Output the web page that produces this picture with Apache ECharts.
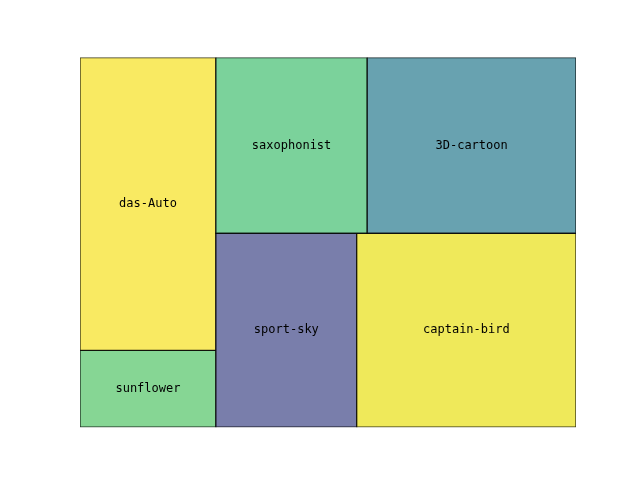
<!DOCTYPE html>
<html>
<head>
<meta charset="utf-8">
<script src="https://cdn.jsdelivr.net/npm/echarts@6/dist/echarts.min.js"></script>
<style>html,body{margin:0;padding:0;background:#fff}#c{width:640px;height:480px}</style>
</head>
<body>
<div id="c"></div>
<script>
const labels = ['sunflower', 'das-Auto', 'sport-sky', 'captain-bird', 'saxophonist', '3D-cartoon'];
const values = [5.7, 21.7, 14.9, 23.2, 14.5, 20.0];
const colors = ['#86d694', '#f9ea62', '#797eab', '#efe95a', '#7bd29b', '#68a2b0'];

// squarify algorithm (as in Python squarify), in 100x100 normalized units
function normalize(sizes, dx, dy) {
  const tot = sizes.reduce((a, b) => a + b, 0);
  return sizes.map(s => s * dx * dy / tot);
}
function layoutrow(sizes, x, y, dx, dy) {
  const w = sizes.reduce((a, b) => a + b, 0) / dy; const r = [];
  for (const s of sizes) { r.push({x: x, y: y, dx: w, dy: s / w}); y += s / w; }
  return r;
}
function layoutcol(sizes, x, y, dx, dy) {
  const h = sizes.reduce((a, b) => a + b, 0) / dx; const r = [];
  for (const s of sizes) { r.push({x: x, y: y, dx: s / h, dy: h}); x += s / h; }
  return r;
}
function layout(s, x, y, dx, dy) { return dx >= dy ? layoutrow(s, x, y, dx, dy) : layoutcol(s, x, y, dx, dy); }
function leftover(s, x, y, dx, dy) {
  const a = s.reduce((p, q) => p + q, 0);
  if (dx >= dy) { const w = a / dy; return [x + w, y, dx - w, dy]; }
  const h = a / dx; return [x, y + h, dx, dy - h];
}
function worst(s, x, y, dx, dy) {
  return Math.max(...layout(s, x, y, dx, dy).map(r => Math.max(r.dx / r.dy, r.dy / r.dx)));
}
function squarify(sizes, x, y, dx, dy) {
  if (sizes.length === 0) return [];
  if (sizes.length === 1) return layout(sizes, x, y, dx, dy);
  let i = 1;
  while (i < sizes.length && worst(sizes.slice(0, i), x, y, dx, dy) >= worst(sizes.slice(0, i + 1), x, y, dx, dy)) i++;
  const cur = sizes.slice(0, i), rem = sizes.slice(i);
  const lo = leftover(cur, x, y, dx, dy);
  return layout(cur, x, y, dx, dy).concat(squarify(rem, lo[0], lo[1], lo[2], lo[3]));
}
const rects = squarify(normalize(values, 100, 100), 0, 0, 100, 100);
const data = rects.map((r, i) => ({value: [r.x, r.y, r.dx, r.dy], name: labels[i], itemStyle: {color: colors[i]}}));

const chart = echarts.init(document.getElementById('c'), null, {renderer: 'canvas'});
chart.setOption({
  animation: false,
  grid: {left: 80, right: 64, top: 57.6, bottom: 52.8},
  xAxis: {type: 'value', min: 0, max: 100, show: false},
  yAxis: {type: 'value', min: 0, max: 100, show: false},
  series: [{
    type: 'custom',
    clip: true,
    data: data,
    renderItem: function (params, api) {
      const x = api.value(0), y = api.value(1), w = api.value(2), h = api.value(3);
      const p0 = api.coord([x, y + h]);
      const p1 = api.coord([x + w, y]);
      const c = colors[params.dataIndex];
      return {
        type: 'group',
        children: [{
          type: 'rect',
          shape: {x: p0[0], y: p0[1], width: p1[0] - p0[0], height: p1[1] - p0[1]},
          style: {fill: c, stroke: 'rgba(0,0,0,0.8)', lineWidth: 1.3}
        }, {
          type: 'text',
          style: {
            text: labels[params.dataIndex],
            x: (p0[0] + p1[0]) / 2, y: (p0[1] + p1[1]) / 2,
            textAlign: 'center', textVerticalAlign: 'middle',
            fill: '#000', font: '12px "DejaVu Sans Mono", monospace'
          }
        }]
      };
    }
  }]
});
</script>
</body>
</html>
